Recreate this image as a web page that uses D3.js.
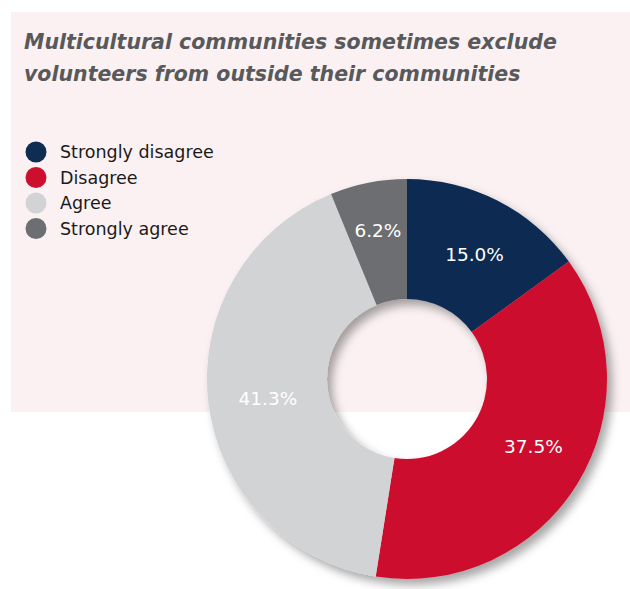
<!DOCTYPE html>
<html>
<head>
<meta charset="utf-8">
<script src="https://cdn.jsdelivr.net/npm/d3@7"></script>
<style>
  html, body { margin: 0; padding: 0; background: #ffffff; }
  svg { display: block; }
</style>
</head>
<body>
<svg id="chart" width="630" height="589"></svg>
<script>
// Survey responses
const categories = ["Strongly disagree", "Disagree", "Agree", "Strongly agree"];
const shares = [15.0, 37.5, 41.3, 6.2];
const colors = ["#0f2c52", "#cc0e2f", "#d2d3d5", "#6d6e72"];
const titleLines = [
  "Multicultural communities sometimes exclude",
  "volunteers from outside their communities"
];

const svg = d3.select("#chart");
const font = "'DejaVu Sans', Verdana, sans-serif";

// Panel background
svg.append("rect")
  .attr("x", 11).attr("y", 12)
  .attr("width", 619).attr("height", 400)
  .attr("fill", "#fbf1f2");

// Title
svg.append("g").selectAll("text")
  .data(titleLines)
  .join("text")
  .attr("x", 24)
  .attr("y", (d, i) => 49 + i * 32)
  .attr("font-family", font)
  .attr("font-weight", "bold")
  .attr("font-style", "italic")
  .attr("font-size", 20.5)
  .attr("fill", "#58595b")
  .text(d => d);

// Legend
const legend = svg.append("g").selectAll("g")
  .data(categories)
  .join("g")
  .attr("transform", (d, i) => `translate(36, ${152 + i * 25.5})`);
legend.append("circle")
  .attr("r", 10.5)
  .attr("fill", (d, i) => colors[i]);
legend.append("text")
  .attr("x", 24)
  .attr("dy", "0.36em")
  .attr("font-family", font)
  .attr("font-size", 17.5)
  .attr("fill", "#1a1a1a")
  .text(d => d);

// Donut
const cx = 407, cy = 379, outerR = 200, innerR = 80;
const pie = d3.pie().sort(null).value(d => d)(shares);
const arc = d3.arc().innerRadius(innerR).outerRadius(outerR);

const defs = svg.append("defs");
const filter = defs.append("filter")
  .attr("id", "donutShadow")
  .attr("x", "-20%").attr("y", "-20%")
  .attr("width", "140%").attr("height", "140%");
filter.append("feDropShadow")
  .attr("dx", 5).attr("dy", 6)
  .attr("stdDeviation", 5)
  .attr("flood-color", "#000000")
  .attr("flood-opacity", 0.35);

const donut = svg.append("g").attr("transform", `translate(${cx}, ${cy})`);
donut.append("g")
  .attr("filter", "url(#donutShadow)")
  .selectAll("path")
  .data(pie)
  .join("path")
  .attr("d", arc)
  .attr("fill", (d, i) => colors[i]);

// Value labels sit at the slice centroid, with small per-slice nudges
const labelNudge = [[4, 0], [7, -6], [0, 3], [-2, -11]];
donut.append("g").selectAll("text")
  .data(pie)
  .join("text")
  .attr("transform", (d, i) => {
    const [x, y] = arc.centroid(d);
    return `translate(${x + labelNudge[i][0]}, ${y + labelNudge[i][1]})`;
  })
  .attr("text-anchor", "middle")
  .attr("dy", "0.36em")
  .attr("font-family", font)
  .attr("font-size", 18.5)
  .attr("fill", "#ffffff")
  .text(d => d.data.toFixed(1) + "%");
</script>
</body>
</html>
